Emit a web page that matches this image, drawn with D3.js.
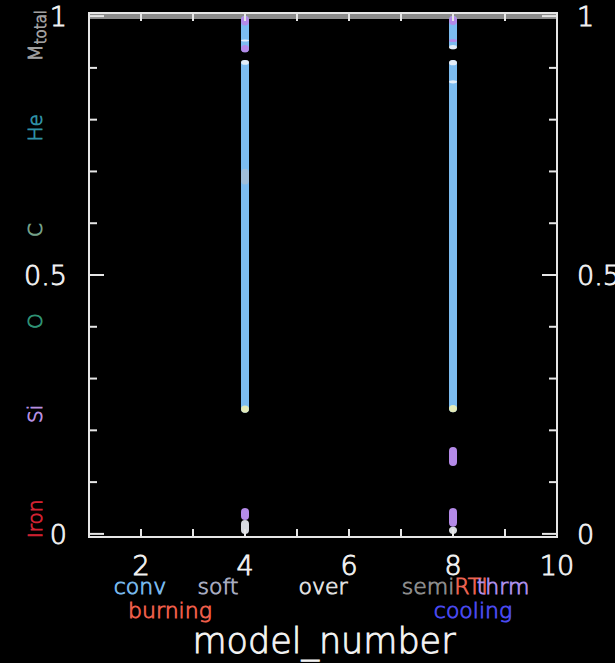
<!DOCTYPE html>
<html lang="en">
<head>
    <meta charset="UTF-8">
    <script src="https://d3js.org/d3.v7.min.js"></script>
    <title>mixing</title>
    <style>
        body { margin: 0; background: #000; }
        text { font-family: "DejaVu Sans", sans-serif; font-weight: 200; stroke-width: 0.9px; }
    </style>
</head>
<body>
    <div id="mix"></div>
<script>
    // ---- data ----
    var xTicks = [2, 4, 6, 8, 10];
    var yTicks = [0, 0.5, 1];
    var mTotal = 1;

    // zones: [model_number, bottom (m/Mtot), top (m/Mtot)]
    var convZones = [[4, 0.234, 0.915], [4, 0.930, 1.0], [8, 0.235, 0.915], [8, 0.936, 1.0]];
    var thrmZones = [[4, 0.027, 0.050], [4, 0.930, 0.944], [4, 0.982, 1.0],
                     [8, 0.131, 0.168], [8, 0.014, 0.050], [8, 0.950, 0.956], [8, 0.983, 1.0]];
    var overZones = [[4, 0.0, 0.027], [4, 0.951, 0.955], [4, 0.906, 0.915],
                     [8, 0.0, 0.014], [8, 0.905, 0.915], [8, 0.870, 0.876], [8, 0.936, 0.944]];
    var tipZones = [[4, 0.234, 0.248], [8, 0.235, 0.249]];
    var semiZones = [[4, 0.675, 0.705]];

    var elements = ["M", "He", "C", "O", "Si", "Iron"];
    var elementColors = ["#a0a0a0", "#2f90a4", "#74a088", "#2f9274", "#b890e0", "#d02232"];
    var elementY = [0.962, 0.784, 0.587, 0.411, 0.232, 0.029];

    var legendRow1 = ["conv", "soft", "over", "semi", "RTI", "thrm"];
    var legendRow1Colors = ["#78b8ec", "#a8acc0", "#e0e0e0", "#8c8c8c", "#ec6452", "#ac8eea"];
    var legendRow2 = ["burning", "cooling"];
    var legendRow2Colors = ["#ee5e4a", "#4a4af0"];

    // ---- layout ----
    var W = 615, H = 663;
    var svg = d3.select("#mix").append("svg")
        .attr("width", W).attr("height", H)
        .style("background", "#000");

    var x = d3.scaleLinear().domain([1, 10]).range([89, 557]);
    var y = d3.scaleLinear().domain([-0.006, 1.006]).range([537, 13]);

    var frameCol = "#e6e6e6";

    // total mass line
    svg.append("line")
        .attr("x1", x(1)).attr("x2", x(10))
        .attr("y1", y(mTotal)).attr("y2", y(mTotal))
        .attr("stroke", "#8c8c8c").attr("stroke-width", 6);

    // zones
    function drawZones(data, color, op) {
        svg.append("g").selectAll("rect").data(data).enter().append("rect")
            .attr("x", function(d) { return x(d[0]) - 4; })
            .attr("width", 8)
            .attr("y", function(d) { return y(d[2]); })
            .attr("height", function(d) { return y(d[1]) - y(d[2]); })
            .attr("rx", 4).attr("ry", 4)
            .attr("fill", color)
            .attr("opacity", op);
    }
    drawZones(convZones, "#7cbcf0", 1);
    drawZones(semiZones, "#b8c0cc", 0.6);
    drawZones(tipZones, "#e4eab8", 1);
    drawZones(thrmZones, "#b48ae8", 1);
    drawZones(overZones, "#eef2f8", 0.9);

    // frame
    svg.append("rect")
        .attr("x", x(1)).attr("y", y(1.006))
        .attr("width", x(10) - x(1)).attr("height", y(-0.006) - y(1.006))
        .attr("fill", "none").attr("stroke", frameCol).attr("stroke-width", 2);

    // y ticks (left and right, inward)
    var yMinor = d3.range(0, 1.0001, 0.1);
    var yt = svg.append("g").attr("stroke", frameCol).attr("stroke-width", 2);
    yMinor.forEach(function(v) {
        var major = Math.abs(v * 2 - Math.round(v * 2)) < 1e-6;
        var len = major ? 15 : 8;
        yt.append("line").attr("x1", x(1)).attr("x2", x(1) + len).attr("y1", y(v)).attr("y2", y(v));
        yt.append("line").attr("x1", x(10)).attr("x2", x(10) - len).attr("y1", y(v)).attr("y2", y(v));
    });
    // x ticks (bottom and top, inward)
    d3.range(1, 10.001, 1).forEach(function(v) {
        yt.append("line").attr("x1", x(v)).attr("x2", x(v)).attr("y1", y(-0.006)).attr("y2", y(-0.006) - 8);
        yt.append("line").attr("x1", x(v)).attr("x2", x(v)).attr("y1", y(1.006)).attr("y2", y(1.006) + 8);
    });

    // tick labels
    var tl = svg.append("g").attr("fill", "#f2f2f2").attr("stroke", "#f2f2f2").attr("font-size", 27);
    yTicks.forEach(function(v) {
        tl.append("text").attr("x", x(1) - 22).attr("y", y(v)).attr("dy", "0.36em")
            .attr("text-anchor", "end").text(d3.format("~g")(v));
        tl.append("text").attr("x", x(10) + 20).attr("y", y(v)).attr("dy", "0.36em")
            .attr("text-anchor", "start").text(d3.format("~g")(v));
    });
    xTicks.forEach(function(v) {
        tl.append("text").attr("x", x(v)).attr("y", 575)
            .attr("text-anchor", "middle").text(v);
    });

    // element labels on the left (rotated)
    elements.forEach(function(e, i) {
        var t = svg.append("text")
            .attr("transform", "translate(42," + y(elementY[i]) + ") rotate(-90)")
            .attr("text-anchor", "middle")
            .attr("font-size", 20)
            .attr("fill", elementColors[i])
            .attr("stroke", elementColors[i]);
        t.append("tspan").text(e);
        if (e === "M") {
            t.append("tspan").attr("font-size", 15).attr("dy", 4).text("total");
        }
    });

    // mixing legend
    var row1X = [140, 218, 323, 428, 471, 503];
    legendRow1.forEach(function(s, i) {
        svg.append("text").attr("x", row1X[i]).attr("y", 594)
            .attr("text-anchor", "middle").attr("font-size", 22)
            .attr("fill", legendRow1Colors[i]).attr("stroke", legendRow1Colors[i]).text(s);
    });
    var row2X = [170, 473];
    legendRow2.forEach(function(s, i) {
        svg.append("text").attr("x", row2X[i]).attr("y", 618)
            .attr("text-anchor", "middle").attr("font-size", 22)
            .attr("fill", legendRow2Colors[i]).attr("stroke", legendRow2Colors[i]).text(s);
    });

    svg.append("text").attr("x", 324).attr("y", 653)
        .attr("text-anchor", "middle").attr("font-size", 35)
        .attr("fill", "#f4f4f4").attr("stroke", "#f4f4f4").text("model_number");
</script>
</body>
</html>
